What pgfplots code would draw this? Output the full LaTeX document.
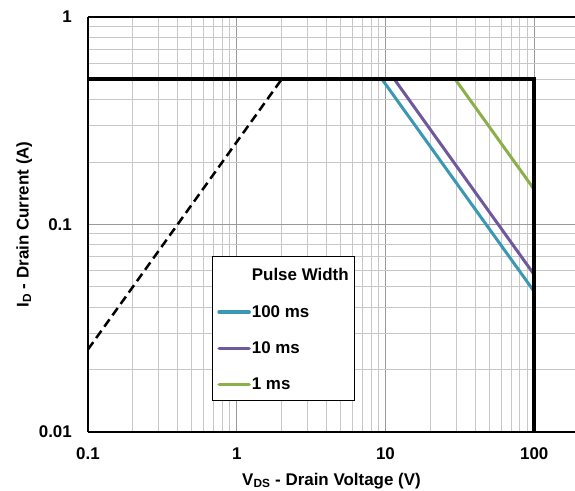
\documentclass[border=0pt]{standalone}
\usepackage{fontspec}
\setmainfont{Liberation Sans}
\usepackage{pgfplots}
\pgfplotsset{compat=1.18}

\definecolor{pw100}{RGB}{58,152,180}
\definecolor{pw10}{RGB}{110,88,158}
\definecolor{pw1}{RGB}{139,176,74}
\newcommand{\lab}{\fontsize{17}{20}\selectfont\bfseries}

\begin{document}
\begin{tikzpicture}
\useasboundingbox (-88bp,-59bp) rectangle (487bp,432bp);
\begin{axis}[
    scale only axis,
    width=487bp, height=415bp,
    xmode=log, ymode=log,
    xmin=0.1, xmax=188, ymin=0.01, ymax=1,
    axis x line*=box, axis y line*=left,
    axis line style={black, line width=1.3bp},
    xtick={0.1,1,10,100}, xticklabels={0.1,1,10,100},
    ytick={0.01,0.1,1}, yticklabels={0.01,0.1,1},
    major tick length=0pt, minor tick length=0pt,
    grid=both,
    major grid style={black!40, line width=1bp},
    minor grid style={black!22, line width=1bp},
    tick label style={font=\lab, inner sep=0pt},
    /pgf/number format/assume math mode=true,
    xticklabel style={anchor=base, yshift=-27bp},
    yticklabel style={anchor=east, xshift=-16bp},
    xlabel={V\textsubscript{DS} - Drain Voltage (V)},
    ylabel={I\textsubscript{D} - Drain Current (A)},
    label style={font=\lab},
    xlabel style={at={(axis description cs:0.5,0)}, anchor=base, yshift=-53bp},
    ylabel style={at={(axis description cs:-0.122,0.5)}, anchor=base},
    legend style={at={(rel axis cs:0.2546,0.424)}, anchor=north west,
        draw=black, line width=0.8bp, fill=white, font=\lab,
        inner xsep=5bp, inner ysep=8bp, row sep=21bp,
        nodes={inner sep=1bp}, cells={anchor=west}},
    legend image code/.code={\draw[#1, line width=3.5bp, line cap=round] (0bp,0bp) -- (30bp,0bp);},
]
\addlegendimage{empty legend}
\addlegendentry{\rule{0pt}{15.5bp}Pulse Width}

\addplot[pw100, line width=3bp] coordinates {(9.5,0.5) (100,0.0475)};
\addlegendentry{100 ms}
\addplot[pw10, line width=3bp] coordinates {(11.5,0.5) (100,0.0573)};
\addlegendentry{10 ms}
\addplot[pw1, line width=3bp] coordinates {(29.5,0.5) (100,0.1475)};
\addlegendentry{1 ms}

% DC limit and operating boundary
\addplot[black, line width=2.5bp, dash pattern=on 9bp off 5bp, forget plot]
    coordinates {(0.1,0.025) (2,0.5)};
\addplot[black, line width=4bp, line join=miter, forget plot]
    coordinates {(0.1,0.5) (100,0.5) (100,0.01)};
\end{axis}
\end{tikzpicture}
\end{document}
